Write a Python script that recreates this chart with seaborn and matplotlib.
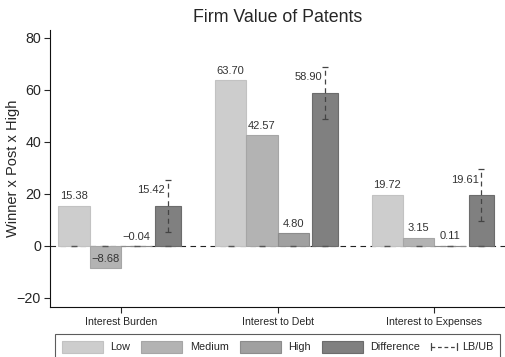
import matplotlib
matplotlib.use("Agg")
import matplotlib.pyplot as plt
from matplotlib.patches import Patch
from matplotlib.lines import Line2D
from matplotlib.legend_handler import HandlerBase
import numpy as np
import pandas as pd
import seaborn as sns

# Estimated coefficients (Winner x Post x High) by outcome and patent-value group
measures = ["Interest Burden", "Interest to Debt", "Interest to Expenses"]
levels = ["Low", "Medium", "High", "Difference"]
low = [15.38, 63.70, 19.72]
medium = [-8.68, 42.57, 3.15]
high = [-0.04, 4.80, 0.11]
difference = [15.42, 58.90, 19.61]
diff_lb = [5.4, 48.8, 9.5]
diff_ub = [25.4, 68.8, 29.6]

fill = {"Low": "#cdcdcd", "Medium": "#b3b3b3", "High": "#a0a0a0", "Difference": "#808080"}
edge = {"Low": "#c2c2c2", "Medium": "#a6a6a6", "High": "#8c8c8c", "Difference": "#6c6c6c"}

sns.set_theme(style="ticks")
plt.rcParams["font.family"] = ["Liberation Sans", "DejaVu Sans"]
plt.rcParams["axes.unicode_minus"] = True

df = pd.DataFrame({
    "measure": measures * 4,
    "level": np.repeat(levels, 3),
    "value": low + medium + high + difference,
})

fig = plt.figure(figsize=(5.05, 3.57), dpi=100)
ax = fig.add_axes([50 / 505, 50 / 357, 455 / 505, 277 / 357])

sns.barplot(data=df, x="measure", y="value", hue="level", hue_order=levels,
            order=measures, palette=fill, errorbar=None, width=0.8, gap=0,
            legend=False, ax=ax, zorder=2)

# outline each series and narrow the Difference bars a little
for lev, cont in zip(levels, ax.containers):
    for bar in cont:
        bar.set_edgecolor(edge[lev])
        bar.set_linewidth(0.8)
        if lev == "Difference":
            c = bar.get_x() + bar.get_width() / 2
            w = bar.get_width() * 0.82
            bar.set_x(c - w / 2)
            bar.set_width(w)

def centers(cont):
    return [b.get_x() + b.get_width() / 2 for b in cont]

# zero reference line
ax.axhline(0, color="#222222", lw=0.8, ls=(0, (5, 4)), zorder=1)

# small caps on the zero line at every bar
all_x = [x for cont in ax.containers for x in centers(cont)]
ax.plot(all_x, np.zeros(len(all_x)), ls="none", marker="_", ms=5,
        mew=1.0, color="#555555", zorder=3)

# value labels
def fmt(v):
    return f"{v:.2f}".replace("-", "\u2212")

for lev, vals, cont in zip(levels[:3], [low, medium, high], ax.containers[:3]):
    for x, v in zip(centers(cont), vals):
        ax.annotate(fmt(v), (x, v), xytext=(0, 6.8), textcoords="offset points",
                    ha="center", va="center", fontsize=8, color="#333333", zorder=4)

dx = centers(ax.containers[3])
for x, v in zip(dx, difference):
    ax.annotate(fmt(v), (x, v), xytext=(-2, 11), textcoords="offset points",
                ha="right", va="center", fontsize=8, color="#333333", zorder=4)

# confidence bounds for the Difference bars
err = [np.array(difference) - np.array(diff_lb), np.array(diff_ub) - np.array(difference)]
eb = ax.errorbar(dx, difference, yerr=err, fmt="none", ecolor="#444444",
                 elinewidth=0.9, capsize=2.2, capthick=0.9, zorder=4)
eb[2][0].set_linestyle((0, (4, 3)))

ax.set_xlim(-0.452, 2.45)
ax.set_ylim(-23.5, 83)
ax.set_yticks([-20, 0, 20, 40, 60, 80])
ax.set_xlabel("")
ax.set_ylabel("Winner x Post x High", fontsize=10.5)
ax.yaxis.set_label_coords(-0.066, 0.5)
ax.set_title("Firm Value of Patents", fontsize=12.8, pad=6)
ax.tick_params(axis="y", labelsize=10.3, length=4.5, width=0.8, pad=2)
ax.tick_params(axis="x", labelsize=7.6, length=4, width=0.8, pad=3)
for s in ["top", "right"]:
    ax.spines[s].set_visible(False)
for s in ["left", "bottom"]:
    ax.spines[s].set_linewidth(0.8)
    ax.spines[s].set_color("#111111")

BOUNDS_FRAC = 0.63


class BoundsHandler(HandlerBase):
    """Short dashed line with end caps for the LB/UB entry."""

    def create_artists(self, legend, orig_handle, xdescent, ydescent, width,
                       height, fontsize, trans):
        y = height / 2 - ydescent
        x0 = -xdescent
        x1 = -xdescent + width * BOUNDS_FRAC
        cap = height * 0.28
        kw = dict(color=orig_handle.get_color(), lw=orig_handle.get_linewidth(),
                  transform=trans)
        body = Line2D([x0, x1], [y, y], ls=(0, (3, 2.2)), **kw)
        left = Line2D([x0, x0], [y - cap, y + cap], **kw)
        right = Line2D([x1, x1], [y - cap, y + cap], **kw)
        return [body, left, right]


handles = [Patch(facecolor=fill[l], edgecolor=edge[l], lw=0.8) for l in levels]
bounds = Line2D([], [], color="#444444", lw=0.9)
handles.append(bounds)
leg = fig.legend(handles, levels + ["LB/UB"], loc="upper left",
                 bbox_to_anchor=(55 / 505, 1 - 334 / 357), ncol=5, fontsize=7.8,
                 frameon=True, fancybox=False, borderaxespad=0,
                 handler_map={bounds: BoundsHandler()},
                 handlelength=3.8, handleheight=1.35, handletextpad=0.7,
                 columnspacing=1.0, borderpad=0.6)
leg.get_frame().set_edgecolor("#333333")
leg.get_frame().set_linewidth(0.8)

# the LB/UB entry gets a narrower handle box than the filled swatches
try:
    last_item = leg._legend_handle_box.get_children()[-1].get_children()[0]
    box = last_item.get_children()[0]
    box.width = box.width * BOUNDS_FRAC
    last_item.sep = last_item.sep * 0.7
except (AttributeError, IndexError):
    pass

fig.savefig("out.png", dpi=100)
